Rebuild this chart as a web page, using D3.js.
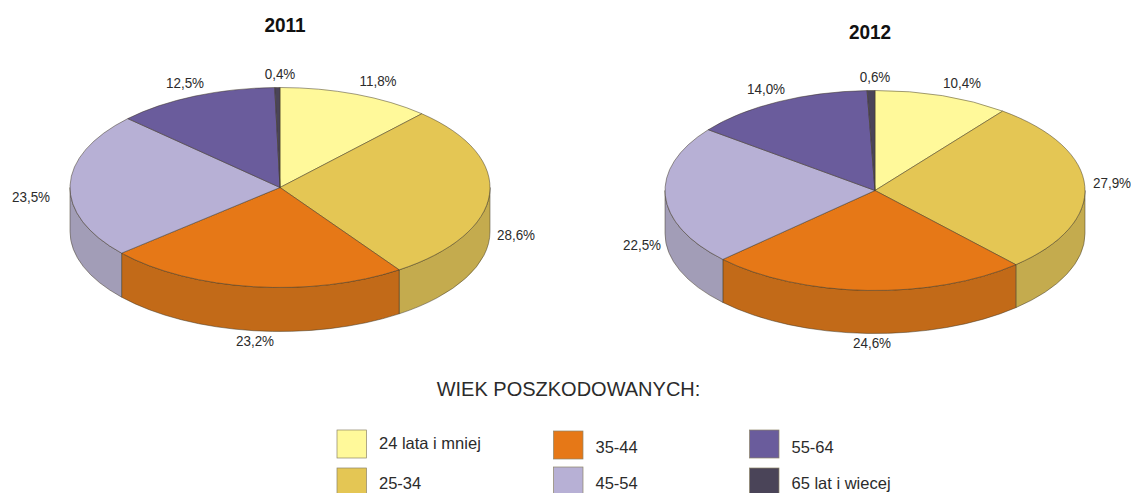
<!DOCTYPE html>
<html>
<head>
  <meta charset="utf-8">
  <style>
  html, body { margin: 0; background: #fff; overflow: hidden; }
  svg { display: block; font-family: "Liberation Sans", Arial, sans-serif; }
  .pct { font-size: 14px; fill: #2b2b2b; text-anchor: middle; }
  .year { font-size: 20px; font-weight: bold; fill: #111; text-anchor: middle; }
  .lab { font-size: 16.5px; fill: #2b2b2b; }
  .face { stroke: #3d3523; stroke-opacity: .7; stroke-width: .7px; vector-effect: non-scaling-stroke; }
  </style>
</head>
<body>
  <div id="chart"></div>
  <script src="https://d3js.org/d3.v7.min.js"></script>
  <script>
  const categories = ["24 lata i mniej", "25-34", "35-44", "45-54", "55-64", "65 lat i wiecej"];
  const values2011 = [11.8, 28.6, 23.2, 23.5, 12.5, 0.4];
  const values2012 = [10.4, 27.9, 24.6, 22.5, 14.0, 0.6];
  const years = ["2011", "2012"];
  const legendTitle = "WIEK POSZKODOWANYCH:";

  const topColors = ["#fff99a", "#e4c654", "#e67817", "#b7b0d5", "#6a5c9c", "#4a4458"];
  const sideColors = ["#d8d282", "#c4ab4e", "#c26a18", "#a29db7", "#5a4e85", "#3f3a4b"];

  // layout
  const width = 1131, height = 493;
  const rx = 210, ry = 100;
  const pies = [
    {year: years[0], values: values2011, cx: 280, cy: 187.5, depth: 44, titleX: 285, titleY: 32,
     labels: [[378, 86], [516, 240], [255, 346], [31, 202], [185, 88], [280, 79]]},
    {year: years[1], values: values2012, cx: 875, cy: 190.5, depth: 43, titleX: 870, titleY: 39,
     labels: [[962, 88], [1112, 188], [872, 348], [642, 250], [766, 94], [875, 82]]}
  ];
  // legend slots per category: column, row
  const legendSlots = [[0, 0], [0, 1], [1, 0], [1, 1], [2, 0], [2, 1]];
  const colX = [337, 553.5, 749.5];
  const rowY = [[430, 468], [431, 467], [430, 468]];
  const textY = [[449, 488.5], [453, 489], [453, 489]];

  const svg = d3.select("#chart").append("svg")
      .attr("width", width)
      .attr("height", height);

  const pie = d3.pie().sort(null).value(d => d);
  const arc = d3.arc().innerRadius(0).outerRadius(rx);

  function rim(a) { return [rx * Math.sin(a), -ry * Math.cos(a)]; }

  // the front wall of one slice, only the part between 90 and 270 degrees shows
  function sidePath(d, depth) {
    const a0 = Math.max(d.startAngle, Math.PI / 2);
    const a1 = Math.min(d.endAngle, 3 * Math.PI / 2);
    if (a1 <= a0) return null;
    const p0 = rim(a0), p1 = rim(a1);
    return "M" + p0 + "A" + rx + "," + ry + " 0 0 1 " + p1 +
      "L" + p1[0] + "," + (p1[1] + depth) +
      "A" + rx + "," + ry + " 0 0 0 " + p0[0] + "," + (p0[1] + depth) + "Z";
  }

  pies.forEach(function(p) {
    const arcs = pie(p.values);
    const g = svg.append("g").attr("transform", "translate(" + p.cx + "," + p.cy + ")");

    g.selectAll("path.side")
      .data(arcs.filter(d => sidePath(d, p.depth)))
      .enter().append("path")
      .attr("class", "side face")
      .attr("d", d => sidePath(d, p.depth))
      .attr("fill", d => sideColors[d.index]);

    g.append("g")
      .attr("transform", "scale(1," + (ry / rx) + ")")
      .selectAll("path.top")
      .data(arcs)
      .enter().append("path")
      .attr("class", "top face")
      .attr("d", arc)
      .attr("fill", d => topColors[d.index]);

    svg.append("text")
      .attr("class", "year")
      .attr("transform", "translate(" + p.titleX + "," + p.titleY + ") scale(.95,1)")
      .text(p.year);

    svg.selectAll("text.pct" + p.year)
      .data(p.values)
      .enter().append("text")
      .attr("class", "pct pct" + p.year)
      .attr("transform", (d, i) => "translate(" + p.labels[i][0] + "," + p.labels[i][1] + ") scale(.96,1)")
      .text(d => d.toFixed(1).replace(".", ",") + "%");
  });

  svg.append("text")
    .attr("x", 568.5)
    .attr("y", 395.5)
    .attr("text-anchor", "middle")
    .style("font-size", "20px")
    .style("fill", "#2b2b2b")
    .text(legendTitle);

  const legend = svg.selectAll("g.leg")
    .data(categories)
    .enter().append("g")
    .attr("class", "leg");

  legend.append("rect")
    .attr("x", (d, i) => colX[legendSlots[i][0]])
    .attr("y", (d, i) => rowY[legendSlots[i][0]][legendSlots[i][1]])
    .attr("width", 29.5)
    .attr("height", 28)
    .attr("fill", (d, i) => topColors[i])
    .attr("stroke", "#8c8468")
    .attr("stroke-width", .7);

  legend.append("text")
    .attr("class", "lab")
    .attr("x", (d, i) => colX[legendSlots[i][0]] + 42)
    .attr("y", (d, i) => textY[legendSlots[i][0]][legendSlots[i][1]])
    .text(d => d);
  </script>
</body>
</html>
